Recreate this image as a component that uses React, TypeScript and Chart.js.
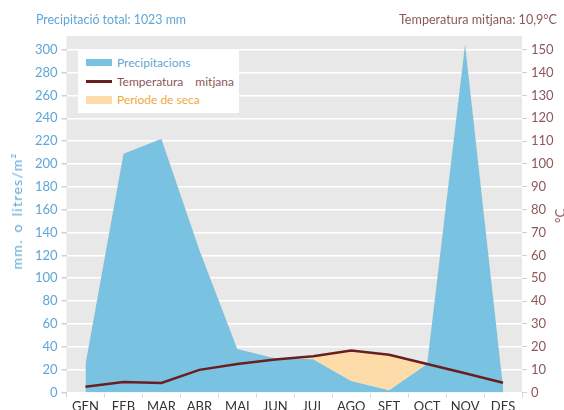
import React, { useEffect, useRef } from 'react';
import { Chart, registerables } from 'chart.js';

Chart.register(...registerables);

const months = ['GEN', 'FEB', 'MAR', 'ABR', 'MAI', 'JUN', 'JUL', 'AGO', 'SET', 'OCT', 'NOV', 'DES'];
const precipitation = [25, 209, 222, 125, 38, 30, 29, 10, 2, 25, 305, 5];
const temperature = [2.5, 4.6, 4.2, 9.9, 12.5, 14.4, 15.9, 18.4, 16.5, 12.5, 8.4, 4.3];
const precipTicks = [0, 20, 40, 60, 80, 100, 120, 140, 160, 180, 200, 220, 240, 260, 280, 300];
const tempTicks = [0, 10, 20, 30, 40, 50, 60, 70, 80, 90, 100, 110, 120, 130, 140, 150];

const BLUE = '#7ac2e2';
const ORANGE = '#fddca9';
const LINE = '#6a1f1f';
const BLUE_TEXT = '#5fa6d6';
const BROWN_TEXT = '#8c5858';
const FONT = 'Lato, "Open Sans", sans-serif';

const bgPlugin = {
  id: 'plotBg',
  beforeDraw(chart: any) {
    const { ctx, chartArea } = chart;
    if (!chartArea) return;
    ctx.save();
    ctx.fillStyle = '#e8e8e8';
    ctx.fillRect(chartArea.left, chartArea.top, chartArea.right - chartArea.left, chartArea.bottom - chartArea.top);
    ctx.restore();
  },
};

export default function App() {
  const canvasRef = useRef<HTMLCanvasElement | null>(null);

  useEffect(() => {
    if (!canvasRef.current) return;
    const chart = new Chart(canvasRef.current, {
      type: 'line',
      data: {
        labels: months,
        datasets: [
          {
            label: 'Precipitacions',
            data: precipitation,
            yAxisID: 'y',
            borderWidth: 0,
            borderColor: 'rgba(0,0,0,0)',
            backgroundColor: BLUE,
            fill: 'origin',
            pointRadius: 0,
            tension: 0,
            order: 2,
          },
          {
            label: 'Període de seca',
            data: temperature.map((t) => t * 2),
            yAxisID: 'y',
            borderWidth: 0,
            borderColor: 'rgba(0,0,0,0)',
            backgroundColor: ORANGE,
            fill: { target: 0, above: ORANGE, below: 'rgba(0,0,0,0)' },
            pointRadius: 0,
            tension: 0,
            order: 1,
          },
          {
            label: 'Temperatura mitjana',
            data: temperature,
            yAxisID: 'y2',
            borderWidth: 2.5,
            borderColor: LINE,
            fill: false,
            pointRadius: 0,
            tension: 0,
            order: 0,
          },
        ],
      } as any,
      options: {
        responsive: false,
        animation: false,
        layout: { padding: { left: 10, right: 0, top: 36, bottom: 0 } },
        plugins: { legend: { display: false }, tooltip: { enabled: false } },
        scales: {
          x: {
            offset: true,
            grid: { offset: true, drawOnChartArea: false, tickLength: 5, color: '#d6d6d6' },
            border: { display: false },
            ticks: { color: '#333', font: { family: FONT, size: 13 }, padding: 2, maxRotation: 0, autoSkip: false },
            afterFit: (s: any) => { s.height = 17.5; },
          },
          y: {
            position: 'left',
            min: 0,
            max: 312,
            afterBuildTicks: (ax: any) => { ax.ticks = precipTicks.map((v) => ({ value: v })); },
            grid: { color: '#ffffff', lineWidth: 1.5, tickColor: '#d0d0d0', tickLength: 5 },
            border: { display: false },
            ticks: { color: BLUE_TEXT, font: { family: FONT, size: 13 }, padding: 4 },
            afterFit: (s: any) => { s.width = 56.5; },
          },
          y2: {
            position: 'right',
            min: 0,
            max: 156,
            afterBuildTicks: (ax: any) => { ax.ticks = tempTicks.map((v) => ({ value: v })); },
            grid: { drawOnChartArea: false, tickColor: '#d0d0d0', tickLength: 5 },
            border: { display: false },
            ticks: { color: BROWN_TEXT, font: { family: FONT, size: 13 }, padding: 4 },
            afterFit: (s: any) => { s.width = 42; },
          },
        },
      } as any,
      plugins: [bgPlugin],
    });
    return () => chart.destroy();
  }, []);

  const swatch = (top: number, color: string, h: number) => (
    <div style={{ position: 'absolute', left: 86, top: top - h / 2, width: 26, height: h, background: color }} />
  );
  const label = (top: number, color: string, text: string, extra?: any) => (
    <div style={{ position: 'absolute', left: 117, top: top - 8, height: 16, lineHeight: '16px', fontSize: 12, color, fontFamily: FONT, whiteSpace: 'pre', ...(extra || {}) }}>{text}</div>
  );
  const vTitle = (cx: number, cy: number, color: string, text: string, extra?: any) => (
    <div style={{ position: 'absolute', left: cx, top: cy, transform: 'translate(-50%, -50%) rotate(-90deg)', fontSize: 14, lineHeight: '16px', color, whiteSpace: 'pre', ...(extra || {}) }}>{text}</div>
  );

  return (
    <div style={{ position: 'fixed', left: 0, top: 0, width: 564, height: 410, background: '#fff', fontFamily: FONT, overflow: 'hidden' }}>
      <canvas ref={canvasRef} width={564} height={410} style={{ position: 'absolute', left: 0, top: 0 }} />
      <div style={{ position: 'absolute', left: 36, top: 12, fontSize: 12.4, color: BLUE_TEXT, lineHeight: '16px', whiteSpace: 'pre' }}>Precipitació total: 1023 mm</div>
      <div style={{ position: 'absolute', right: 7, top: 12, fontSize: 12.6, color: BROWN_TEXT, lineHeight: '16px', whiteSpace: 'pre' }}>Temperatura mitjana: 10,9°C</div>
      {vTitle(17, 211, BLUE_TEXT, 'mm. o litres/m²', { letterSpacing: '1.3px', wordSpacing: '2px' })}
      {vTitle(560, 216, BROWN_TEXT, '°C', { fontSize: 13 })}
      <div style={{ position: 'absolute', left: 78, top: 50, width: 161, height: 63, background: '#fff' }} />
      {swatch(62.5, BLUE, 7)}
      {label(63, BLUE_TEXT, 'Precipitacions')}
      {swatch(81.5, LINE, 2.5)}
      {label(81.5, BROWN_TEXT, 'Temperatura mitjana', { wordSpacing: '9px' })}
      {swatch(100, ORANGE, 8)}
      {label(100, '#f0a83a', 'Període de seca')}
    </div>
  );
}
